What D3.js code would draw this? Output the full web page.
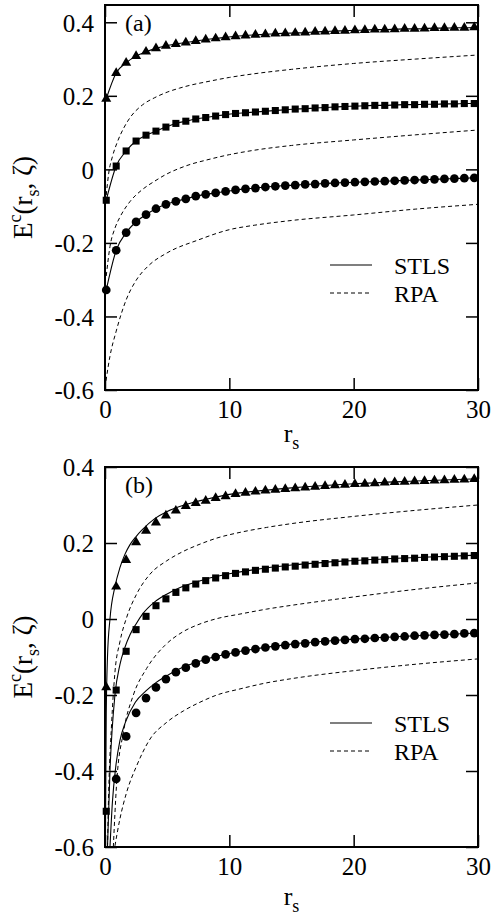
<!DOCTYPE html>
<html>
<head>
<meta charset="utf-8">
<script src="https://cdn.jsdelivr.net/npm/d3@7"></script>
<style>
  html, body { margin: 0; padding: 0; background: #fff; }
  svg { display: block; }
  text { font-family: "Liberation Serif", "Times New Roman", "DejaVu Serif", serif; fill: #000; }
</style>
</head>
<body>
<script>
// ---------------- DATA ----------------
const xTicks = [0, 10, 20, 30];
const xTickLabels = ["0", "10", "20", "30"];
const yTicks = [-0.6, -0.4, -0.2, 0, 0.2, 0.4];
const yTickLabels = ["-0.6", "-0.4", "-0.2", "0", "0.2", "0.4"];
const legendLabels = ["STLS", "RPA"];
const panelLabels = ["(a)", "(b)"];

// r_s positions of the symbols
const rsMarkers = [0.1, 0.9, 1.7, 2.5, 3.3, 4.1, 4.9, 5.7, 6.5, 7.3, 8.1, 8.9, 9.7, 10.5, 11.3, 12.1, 12.9, 13.7, 14.5, 15.3, 16.1, 16.9, 17.7, 18.5, 19.3, 20.1, 20.9, 21.7, 22.5, 23.3, 24.1, 24.9, 25.7, 26.5, 27.3, 28.1, 28.9, 29.7];

// Panel (a): symbols (STLS curve passes through them)
const aTriangles = [0.192, 0.262, 0.290, 0.308, 0.320, 0.329, 0.336, 0.341, 0.345, 0.349, 0.353, 0.356, 0.359, 0.362, 0.364, 0.366, 0.367, 0.369, 0.370, 0.371, 0.372, 0.374, 0.375, 0.376, 0.377, 0.378, 0.379, 0.380, 0.380, 0.381, 0.382, 0.382, 0.383, 0.384, 0.384, 0.385, 0.385, 0.386];
const aSquares = [-0.084, 0.009, 0.050, 0.077, 0.093, 0.104, 0.115, 0.125, 0.131, 0.137, 0.141, 0.145, 0.149, 0.152, 0.154, 0.156, 0.158, 0.160, 0.162, 0.164, 0.165, 0.167, 0.168, 0.170, 0.171, 0.172, 0.173, 0.174, 0.174, 0.175, 0.176, 0.176, 0.177, 0.177, 0.178, 0.178, 0.179, 0.179];
const aCircles = [-0.328, -0.220, -0.172, -0.143, -0.123, -0.107, -0.095, -0.087, -0.080, -0.073, -0.068, -0.064, -0.060, -0.056, -0.053, -0.051, -0.048, -0.046, -0.044, -0.043, -0.041, -0.040, -0.038, -0.037, -0.036, -0.035, -0.034, -0.033, -0.032, -0.031, -0.030, -0.029, -0.028, -0.027, -0.026, -0.025, -0.024, -0.023];

// Panel (a): RPA curves
const aRpaUpperRs = [0.1, 0.3, 0.6, 1.0, 1.5, 2.0, 3.0, 4.0, 5.0, 6.0, 7.0, 8.0, 10, 12, 15, 20, 25, 30];
const aRpaUpper = [-0.07, -0.01, 0.035, 0.075, 0.112, 0.140, 0.175, 0.195, 0.210, 0.221, 0.230, 0.237, 0.250, 0.260, 0.272, 0.288, 0.300, 0.311];
const aRpaMidRs = [0.1, 0.4, 0.8, 1.2, 2.0, 3.0, 4.0, 5.0, 6.0, 7.0, 8.0, 10, 12, 15, 20, 25, 30];
const aRpaMid = [-0.29, -0.21, -0.16, -0.13, -0.088, -0.055, -0.032, -0.012, 0.003, 0.015, 0.024, 0.040, 0.052, 0.065, 0.080, 0.094, 0.107];
const aRpaLowRs = [0.08, 0.4, 0.9, 1.7, 2.5, 3.5, 5.0, 7.5, 10, 12, 15, 20, 25, 30];
const aRpaLow = [-0.575, -0.508, -0.44, -0.355, -0.302, -0.262, -0.227, -0.192, -0.164, -0.152, -0.139, -0.124, -0.108, -0.095];

// Panel (b): symbols
const bTriangles = [-0.180, 0.085, 0.155, 0.202, 0.232, 0.254, 0.272, 0.285, 0.297, 0.305, 0.311, 0.318, 0.323, 0.329, 0.332, 0.335, 0.338, 0.340, 0.342, 0.344, 0.346, 0.348, 0.350, 0.352, 0.353, 0.355, 0.356, 0.357, 0.359, 0.360, 0.361, 0.362, 0.363, 0.364, 0.365, 0.366, 0.367, 0.368];
const bSquares = [-0.506, -0.187, -0.085, -0.028, 0.007, 0.035, 0.053, 0.070, 0.082, 0.092, 0.101, 0.108, 0.114, 0.120, 0.124, 0.128, 0.131, 0.134, 0.137, 0.139, 0.142, 0.144, 0.146, 0.148, 0.150, 0.152, 0.153, 0.155, 0.156, 0.158, 0.159, 0.160, 0.162, 0.163, 0.164, 0.165, 0.166, 0.167];
const bCircles = [null, -0.421, -0.309, -0.247, -0.208, -0.180, -0.158, -0.140, -0.128, -0.117, -0.107, -0.100, -0.093, -0.088, -0.083, -0.079, -0.075, -0.072, -0.069, -0.066, -0.064, -0.061, -0.059, -0.057, -0.055, -0.053, -0.052, -0.050, -0.049, -0.047, -0.046, -0.044, -0.043, -0.042, -0.041, -0.040, -0.038, -0.037];

// Panel (b): STLS curves
const bStlsTriRs = [0.03, 0.1, 0.2, 0.4, 0.8, 1.2, 1.6, 2.0, 2.5, 3.0, 4.0, 5.0, 6.0, 7.0, 8.0, 10, 12, 15, 20, 25, 30];
const bStlsTri = [-0.60, -0.25, -0.10, 0.00, 0.085, 0.135, 0.170, 0.195, 0.217, 0.235, 0.264, 0.283, 0.296, 0.306, 0.314, 0.328, 0.336, 0.345, 0.356, 0.363, 0.369];
const bStlsSqRs = [0.2, 0.4, 0.8, 1.2, 1.6, 2.0, 2.5, 3.0, 4.0, 5.0, 6.0, 7.0, 8.0, 10, 12, 15, 20, 25, 30];
const bStlsSq = [-0.60, -0.40, -0.20, -0.12, -0.075, -0.042, -0.013, 0.012, 0.045, 0.066, 0.082, 0.094, 0.104, 0.119, 0.130, 0.142, 0.154, 0.162, 0.168];
const bStlsCircRs = [0.4, 0.6, 0.86, 1.2, 1.64, 2.44, 3.27, 4.07, 4.88, 5.7, 7, 8, 10, 12, 15, 20, 25, 30];
const bStlsCirc = [-0.60, -0.48, -0.39, -0.32, -0.272, -0.219, -0.190, -0.168, -0.151, -0.136, -0.118, -0.107, -0.091, -0.079, -0.066, -0.053, -0.044, -0.037];

// Panel (b): RPA curves
const bRpaUpperRs = [0.2, 0.27, 0.54, 0.8, 1.2, 1.74, 2.55, 3.62, 4.96, 6.3, 7.64, 9, 10.86, 13, 15, 20, 25, 30];
const bRpaUpper = [-0.60, -0.49, -0.27, -0.14, -0.06, 0.004, 0.066, 0.118, 0.153, 0.178, 0.197, 0.213, 0.228, 0.241, 0.251, 0.270, 0.286, 0.300];
const bRpaMidRs = [0.67, 0.94, 1.47, 2.28, 3.35, 4.8, 6.2, 7.64, 9, 10.86, 13, 15, 20, 25, 30];
const bRpaMid = [-0.60, -0.43, -0.30, -0.20, -0.13, -0.07, -0.035, -0.013, 0.001, 0.013, 0.026, 0.036, 0.058, 0.078, 0.095];
const bRpaLowRs = [0.8, 1.2, 1.74, 2.55, 3.62, 4.96, 6.3, 7.64, 9, 10.86, 13, 15, 20, 25, 30];
const bRpaLow = [-0.597, -0.526, -0.456, -0.386, -0.316, -0.272, -0.242, -0.219, -0.200, -0.184, -0.168, -0.157, -0.136, -0.119, -0.105];

// ---------------- DRAWING ----------------
const W = 492, H = 918;
const FONT = '"Liberation Serif", "Times New Roman", serif';
const svg = d3.select("body").append("svg").attr("width", W).attr("height", H);

const zip = (xs, ys) => xs.map((v, i) => [v, ys[i]]);

const panels = [
  {
    id: "a", label: panelLabels[0], top: 5, bottom: 390, ymax: 0.447,
    stls: [zip(rsMarkers, aTriangles), zip(rsMarkers, aSquares), zip(rsMarkers, aCircles)],
    rpa: [zip(aRpaUpperRs, aRpaUpper), zip(aRpaMidRs, aRpaMid), zip(aRpaLowRs, aRpaLow)],
    tri: zip(rsMarkers, aTriangles), sq: zip(rsMarkers, aSquares), circ: zip(rsMarkers, aCircles),
    legendY: 265, tickLabBase: 28, xLabBase: 52, labelBase: 26
  },
  {
    id: "b", label: panelLabels[1], top: 467, bottom: 847, ymax: 0.4,
    stls: [zip(bStlsTriRs, bStlsTri), zip(bStlsSqRs, bStlsSq), zip(bStlsCircRs, bStlsCirc)],
    rpa: [zip(bRpaUpperRs, bRpaUpper), zip(bRpaMidRs, bRpaMid), zip(bRpaLowRs, bRpaLow)],
    tri: zip(rsMarkers, bTriangles), sq: zip(rsMarkers, bSquares), circ: zip(rsMarkers, bCircles),
    legendY: 723, tickLabBase: 28, xLabBase: 58, labelBase: 26
  }
];

const L = 105, R = 478;
const x = d3.scaleLinear().domain([0, 30]).range([L, R]);

panels.forEach(p => {
  const y = d3.scaleLinear().domain([-0.6, p.ymax]).range([p.bottom, p.top]);
  const g = svg.append("g");

  const clipId = "clip-" + p.id;
  svg.append("clipPath").attr("id", clipId)
    .append("rect").attr("x", L).attr("y", p.top).attr("width", R - L).attr("height", p.bottom - p.top);

  const line = d3.line()
    .defined(d => d[1] != null)
    .x(d => x(d[0])).y(d => y(d[1]))
    .curve(d3.curveMonotoneX);

  const curves = g.append("g").attr("clip-path", `url(#${clipId})`);
  p.rpa.forEach(s => curves.append("path").attr("d", line(s))
    .attr("fill", "none").attr("stroke", "#000").attr("stroke-width", 1)
    .attr("stroke-dasharray", "4,3"));
  p.stls.forEach(s => curves.append("path").attr("d", line(s.filter(d => d[1] != null)))
    .attr("fill", "none").attr("stroke", "#000").attr("stroke-width", 1.1));

  // axes (inside ticks)
  const axL = d3.axisLeft(y).tickValues(yTicks).tickSize(-12).tickPadding(11)
    .tickFormat((d, i) => yTickLabels[i]);
  const axR = d3.axisRight(y).tickValues(yTicks).tickSize(-12).tickFormat("");
  const axB = d3.axisBottom(x).tickValues(xTicks).tickSize(-12).tickPadding(9)
    .tickFormat((d, i) => xTickLabels[i]);
  const axT = d3.axisTop(x).tickValues(xTicks).tickSize(-12).tickFormat("");

  const gl = g.append("g").attr("transform", `translate(${L},0)`).call(axL);
  const gr = g.append("g").attr("transform", `translate(${R},0)`).call(axR);
  const gb = g.append("g").attr("transform", `translate(0,${p.bottom})`).call(axB);
  const gt = g.append("g").attr("transform", `translate(0,${p.top})`).call(axT);
  [gl, gr, gb, gt].forEach(a => {
    a.select(".domain").remove();
    a.selectAll(".tick line").attr("stroke", "#000").attr("stroke-width", 1.5);
    a.selectAll("text").attr("font-family", FONT).attr("font-size", 25).attr("fill", "#000");
  });
  gl.selectAll(".tick text").attr("dy", "0.35em");
  gb.selectAll(".tick text").attr("dy", null).attr("y", p.tickLabBase);

  // frame
  g.append("rect").attr("x", L).attr("y", p.top).attr("width", R - L).attr("height", p.bottom - p.top)
    .attr("fill", "none").attr("stroke", "#000").attr("stroke-width", 2);

  // symbols
  const sym = (type, size) => d3.symbol().type(type).size(size)();
  const mk = g.append("g");
  mk.selectAll(".tri").data(p.tri.filter(d => d[1] != null)).join("path")
    .attr("d", sym(d3.symbolTriangle, 44))
    .attr("transform", d => `translate(${x(d[0])},${y(d[1])})`).attr("fill", "#000");
  mk.selectAll(".sq").data(p.sq.filter(d => d[1] != null)).join("path")
    .attr("d", sym(d3.symbolSquare, 50))
    .attr("transform", d => `translate(${x(d[0])},${y(d[1])})`).attr("fill", "#000");
  mk.selectAll(".ci").data(p.circ.filter(d => d[1] != null)).join("path")
    .attr("d", sym(d3.symbolCircle, 60))
    .attr("transform", d => `translate(${x(d[0])},${y(d[1])})`).attr("fill", "#000");

  // panel label
  g.append("text").attr("x", L + 20).attr("y", p.top + p.labelBase)
    .attr("font-family", FONT).attr("font-size", 24).text(p.label);

  // legend
  const lg = g.append("g");
  const lx0 = 330, lx1 = 372, tx = 394;
  lg.append("line").attr("x1", lx0).attr("x2", lx1).attr("y1", p.legendY).attr("y2", p.legendY)
    .attr("stroke", "#000").attr("stroke-width", 1.1);
  lg.append("line").attr("x1", lx0).attr("x2", lx1).attr("y1", p.legendY + 28).attr("y2", p.legendY + 28)
    .attr("stroke", "#000").attr("stroke-width", 1).attr("stroke-dasharray", "4,3");
  lg.append("text").attr("x", tx).attr("y", p.legendY + 9).attr("font-family", FONT).attr("font-size", 24).text(legendLabels[0]);
  lg.append("text").attr("x", tx).attr("y", p.legendY + 37).attr("font-family", FONT).attr("font-size", 24).text(legendLabels[1]);

  // x label r_s
  const xl = g.append("text").attr("x", (L + R) / 2).attr("y", p.bottom + p.xLabBase)
    .attr("text-anchor", "middle").attr("font-family", FONT).attr("font-size", 26);
  xl.append("tspan").text("r");
  xl.append("tspan").attr("dy", 7).attr("font-size", 18).text("s");

  // y label E^c(r_s, ζ)
  const cy = (p.top + p.bottom) / 2;
  const yl = g.append("text").attr("transform", `translate(32,${cy}) rotate(-90)`)
    .attr("text-anchor", "middle").attr("font-family", FONT).attr("font-size", 27);
  yl.append("tspan").text("E");
  yl.append("tspan").attr("dy", -11).attr("font-size", 18).text("c");
  yl.append("tspan").attr("dy", 11).text("(r");
  yl.append("tspan").attr("dy", 7).attr("font-size", 18).text("s");
  yl.append("tspan").attr("dy", -7).text(", ζ)");
});
</script>
</body>
</html>
